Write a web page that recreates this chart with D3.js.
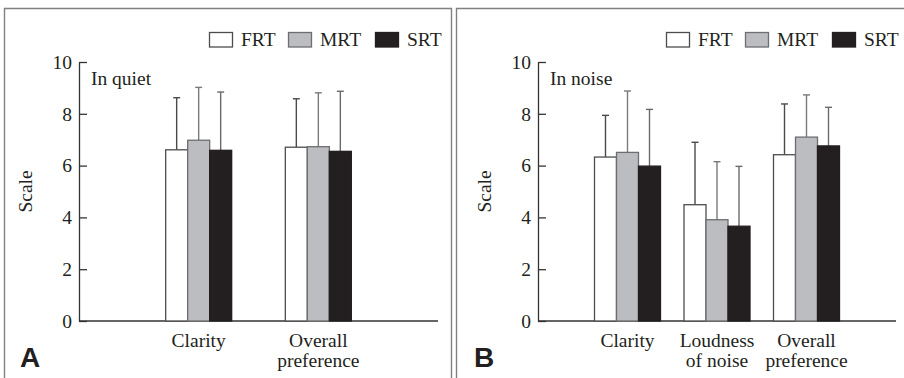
<!DOCTYPE html>
<html>
<head>
<meta charset="utf-8">
<script src="https://cdn.jsdelivr.net/npm/d3@7"></script>
<style>
  html, body { margin: 0; padding: 0; background: #fff; }
  svg text.serif { font-family: "Liberation Serif", "Times New Roman", Tinos, serif; fill: #231f20; font-size: 19.5px; }
</style>
</head>
<body>
<svg id="chart" width="904" height="378"></svg>
<script>
// series / legend
const series = ['FRT', 'MRT', 'SRT'];
const seriesFill = ['#ffffff', '#bcbdc0', '#231f20'];
const seriesStroke = ['#4d4d4d', '#6d6e70', '#231f20'];
const errStroke = ['#4a4a4a', '#7a7a7a', '#6a6a6a'];

// y axis ticks
const yTicks = [0, 2, 4, 6, 8, 10];

// panel A : in quiet
const quietCategories = [['Clarity'], ['Overall', 'preference']];
const quietMean = [[6.61, 6.98, 6.59], [6.71, 6.73, 6.55]];
const quietSD = [[2.01, 2.04, 2.25], [1.87, 2.08, 2.32]];

// panel B : in noise
const noiseCategories = [['Clarity'], ['Loudness', 'of noise'], ['Overall', 'preference']];
const noiseMean = [[6.33, 6.51, 5.98], [4.49, 3.91, 3.66], [6.42, 7.10, 6.76]];
const noiseSD = [[1.61, 2.37, 2.19], [2.41, 2.24, 2.31], [1.96, 1.63, 1.49]];

const svg = d3.select('#chart');

// panel frames
svg.append('path')
  .attr('d', 'M4.5,378V8.5H451.5V378')
  .attr('fill', 'none').attr('stroke', '#808080').attr('stroke-width', 1.4);
svg.append('path')
  .attr('d', 'M456.5,378V8.5H904')
  .attr('fill', 'none').attr('stroke', '#808080').attr('stroke-width', 1.4);

function drawPanel(opts) {
  const { left, right, legendX, cats, mean, sd, note, letter, letterX } = opts;
  const g = svg.append('g');

  const y = d3.scaleLinear().domain([0, 10]).range([321, 62]);
  const x0 = d3.scalePoint()
    .domain(d3.range(cats.length))
    .range([left, right])
    .padding(1);
  const x1 = d3.scaleBand().domain(series).range([-33, 33]);

  // y axis, ticks pointing inward
  g.append('g')
    .attr('transform', `translate(${left},0)`)
    .call(d3.axisLeft(y).tickValues(yTicks).tickSizeInner(-8).tickSizeOuter(0).tickPadding(7))
    .call(a => a.select('.domain').attr('stroke', '#333').attr('stroke-width', 1.3))
    .call(a => a.selectAll('.tick line').attr('stroke', '#333').attr('stroke-width', 1.3))
    .call(a => a.selectAll('.tick text').attr('class', 'serif'));

  // x axis line
  g.append('line')
    .attr('x1', left).attr('x2', right)
    .attr('y1', y(0)).attr('y2', y(0))
    .attr('stroke', '#333').attr('stroke-width', 1.3);

  // y label
  g.append('text').attr('class', 'serif')
    .attr('transform', `translate(${left - 47},${y(5)}) rotate(-90)`)
    .attr('text-anchor', 'middle')
    .text('Scale');

  // condition note
  g.append('text').attr('class', 'serif')
    .attr('x', left + 12).attr('y', 85)
    .text(note);

  // bars
  const groups = g.selectAll('.grp')
    .data(cats.map((c, i) => i))
    .enter().append('g')
    .attr('transform', i => `translate(${x0(i)},0)`);

  const rows = groups.selectAll('.item')
    .data(i => series.map((s, k) => ({ s, k, m: mean[i][k], e: sd[i][k] })))
    .enter().append('g');

  // error bars first so bar outlines sit on top
  rows.append('line')
    .attr('x1', d => x1(d.s) + x1.bandwidth() / 2)
    .attr('x2', d => x1(d.s) + x1.bandwidth() / 2)
    .attr('y1', d => y(d.m))
    .attr('y2', d => y(d.m + d.e))
    .attr('stroke', d => errStroke[d.k]).attr('stroke-width', 1.4);
  rows.append('line')
    .attr('x1', d => x1(d.s) + x1.bandwidth() / 2 - 3.5)
    .attr('x2', d => x1(d.s) + x1.bandwidth() / 2 + 3.5)
    .attr('y1', d => y(d.m + d.e))
    .attr('y2', d => y(d.m + d.e))
    .attr('stroke', d => errStroke[d.k]).attr('stroke-width', 1.4);

  rows.append('rect')
    .attr('x', d => x1(d.s))
    .attr('width', x1.bandwidth())
    .attr('y', d => y(d.m))
    .attr('height', d => y(0) - y(d.m))
    .attr('fill', d => seriesFill[d.k])
    .attr('stroke', d => seriesStroke[d.k])
    .attr('stroke-width', 1.3);

  // category labels
  groups.append('text').attr('class', 'serif')
    .attr('text-anchor', 'middle')
    .selectAll('tspan')
    .data(i => cats[i])
    .enter().append('tspan')
    .attr('x', 0)
    .attr('y', (t, j) => 347 + j * 20)
    .text(t => t);

  // legend
  const lg = g.append('g').attr('transform', `translate(${legendX},0)`);
  const legendOffsets = [0, 79, 166];
  series.forEach((s, k) => {
    lg.append('rect')
      .attr('x', legendOffsets[k] + 0.5).attr('y', 32.5)
      .attr('width', 23).attr('height', 14.5)
      .attr('fill', seriesFill[k])
      .attr('stroke', seriesStroke[k]).attr('stroke-width', 1.3);
    lg.append('text').attr('class', 'serif')
      .attr('x', legendOffsets[k] + 32).attr('y', 46)
      .text(s);
  });

  // panel letter
  svg.append('text')
    .attr('x', letterX).attr('y', 367)
    .style('font-family', '"Liberation Sans", Arial, sans-serif')
    .style('font-weight', 'bold')
    .style('font-size', '28px')
    .style('fill', '#231f20')
    .text(letter);
}

drawPanel({
  left: 79, right: 438, legendX: 209,
  cats: quietCategories, mean: quietMean, sd: quietSD,
  note: 'In quiet', letter: 'A', letterX: 20
});

drawPanel({
  left: 538, right: 896, legendX: 666,
  cats: noiseCategories, mean: noiseMean, sd: noiseSD,
  note: 'In noise', letter: 'B', letterX: 474
});
</script>
</body>
</html>
